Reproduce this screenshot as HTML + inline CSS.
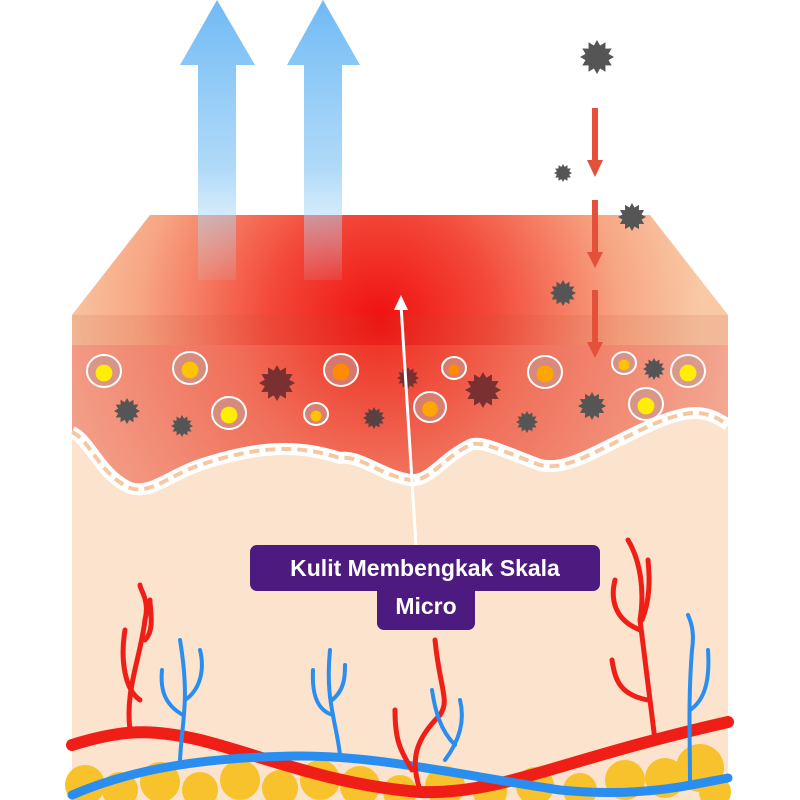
<!DOCTYPE html>
<html><head><meta charset="utf-8"><style>
html,body{margin:0;padding:0;background:#fff;width:800px;height:800px;overflow:hidden}
.lab{position:absolute;background:#4d1a7f;color:#fff;font-family:"Liberation Sans",sans-serif;font-weight:bold;font-size:23px;text-align:center;border-radius:7px}
</style></head><body>
<svg id="s" width="800" height="800" viewBox="0 0 800 800" style="position:absolute;left:0;top:0">
<defs>
<radialGradient id="hot" cx="380" cy="320" r="320" gradientUnits="userSpaceOnUse">
<stop offset="0" stop-color="#f01010"/><stop offset="0.35" stop-color="#f3493a"/><stop offset="0.75" stop-color="#f7a582"/><stop offset="1" stop-color="#f9c8a5"/></radialGradient>
<radialGradient id="epi" cx="380" cy="320" r="380" gradientUnits="userSpaceOnUse">
<stop offset="0" stop-color="#ee2a1e"/><stop offset="0.4" stop-color="#f0705a"/><stop offset="1" stop-color="#f3ae98"/></radialGradient>
<linearGradient id="blu" x1="0" y1="0" x2="0" y2="1"><stop offset="0" stop-color="#6fbaf5"/><stop offset="0.6" stop-color="#9cd0f7" stop-opacity="0.8"/><stop offset="1" stop-color="#bfe0f7" stop-opacity="0.1"/></linearGradient>
</defs>
<rect x="72" y="340" width="656" height="460" fill="#fbe3cd"/>
<path d="M72,340 H728 V425 C700,405 680,410 620,440 C580,460 560,470 540,465 C500,450 480,440 470,445 C440,460 430,482 410,480 C380,475 360,455 340,458 C300,445 260,445 200,465 C170,475 150,495 130,488 C100,475 90,440 72,432 Z" fill="url(#epi)"/>
<path d="M72,432 C90,440 100,475 130,488 C150,495 170,475 200,465 C260,445 300,445 340,458 C360,455 380,475 410,480 C430,482 440,460 470,445 C480,440 500,450 540,465 C560,470 580,460 620,440 C680,410 700,405 728,425" fill="none" stroke="#fff" stroke-width="12"/>
<path d="M72,432 C90,440 100,475 130,488 C150,495 170,475 200,465 C260,445 300,445 340,458 C360,455 380,475 410,480 C430,482 440,460 470,445 C480,440 500,450 540,465 C560,470 580,460 620,440 C680,410 700,405 728,425" fill="none" stroke="#f6c7a3" stroke-width="4" stroke-dasharray="10 6"/>
<polygon points="150,215 650,215 728,315 72,315" fill="url(#hot)"/>
<rect x="72" y="315" width="656" height="30" fill="url(#hot)"/>
<rect x="72" y="315" width="656" height="30" fill="#c0503a" opacity="0.12"/>
<g fill="url(#blu)">
<polygon points="217,0 255,65 236,65 236,280 198,280 198,65 180,65"/>
<polygon points="323,0 360,65 342,65 342,280 304,280 304,65 287,65"/>
</g>
<g fill="#e4503a">
<rect x="592" y="108" width="6" height="55"/><polygon points="587,160 603,160 595,177"/>
<rect x="592" y="200" width="6" height="55"/><polygon points="587,252 603,252 595,268"/>
<rect x="592" y="290" width="6" height="55"/><polygon points="587,342 603,342 595,358"/>
</g>
<g id="cells"></g>
<g id="vir"></g>
<g fill="#f7c22c">
<circle cx="85" cy="785" r="20"/><circle cx="120" cy="790" r="18"/><circle cx="160" cy="782" r="20"/><circle cx="200" cy="790" r="18"/><circle cx="240" cy="780" r="20"/><circle cx="280" cy="788" r="18"/><circle cx="320" cy="780" r="20"/><circle cx="360" cy="786" r="20"/><circle cx="400" cy="792" r="17"/><circle cx="445" cy="786" r="20"/><circle cx="490" cy="792" r="17"/><circle cx="535" cy="786" r="19"/><circle cx="580" cy="790" r="17"/><circle cx="625" cy="780" r="20"/><circle cx="665" cy="778" r="20"/><circle cx="700" cy="768" r="24"/><circle cx="715" cy="792" r="16"/>
</g>
<g fill="none" stroke-linecap="round">
<path d="M72,745 C120,730 150,728 200,740 C260,755 330,785 420,792 C500,795 560,760 728,722" stroke="#ef1f17" stroke-width="12"/>
<path d="M72,795 C130,770 200,757 300,756 C380,756 460,775 560,790 C640,798 690,785 728,778" stroke="#2a8ef0" stroke-width="9"/>
<g stroke="#ef1f17" stroke-width="5">
<path d="M130,730 C125,690 140,660 145,620 C150,600 140,590 140,585"/><path d="M140,700 C125,690 120,660 125,630"/><path d="M145,640 C155,630 150,610 150,600"/>
<path d="M420,790 C410,760 415,740 440,715 C450,700 440,690 435,640"/><path d="M412,770 C400,750 395,740 395,710"/>
<path d="M655,740 C650,700 645,660 640,620 C645,590 640,560 628,540"/><path d="M648,700 C620,695 615,680 612,660"/><path d="M640,630 C615,620 610,600 615,580"/><path d="M642,620 C650,600 650,580 648,560"/>
</g>
<g stroke="#2a8ef0" stroke-width="4">
<path d="M180,760 C182,720 190,700 180,640"/><path d="M183,715 C165,705 160,690 162,670"/><path d="M185,700 C200,690 205,670 200,650"/>
<path d="M340,755 C336,720 325,700 330,650"/><path d="M333,715 C315,710 312,690 313,670"/><path d="M332,700 C345,690 345,675 345,665"/>
<path d="M445,760 C460,740 465,720 460,700"/><path d="M455,745 C440,730 435,710 432,690"/>
<path d="M690,780 C690,740 688,700 692,650 C695,630 690,620 688,615"/><path d="M690,710 C705,700 710,680 708,650"/>
</g>
</g>
<line x1="416" y1="545" x2="401" y2="305" stroke="#fff" stroke-width="3"/>
<polygon points="401,295 394,310 408,310" fill="#fff"/>
</svg>
<div class="lab" style="left:250px;top:545px;width:350px;height:46px;line-height:46px">Kulit Membengkak Skala</div>
<div class="lab" style="left:377px;top:586px;width:98px;height:44px;line-height:40px;border-radius:0 0 7px 7px">Micro</div>
<script>
var NS="http://www.w3.org/2000/svg";
function star(g,cx,cy,r,col){var p=[],n=12;for(var i=0;i<2*n;i++){var a=i*Math.PI/n,rr=i%2?r*0.7:r;p.push((cx+rr*Math.cos(a)).toFixed(1)+","+(cy+rr*Math.sin(a)).toFixed(1));}
var e=document.createElementNS(NS,"polygon");e.setAttribute("points",p.join(" "));e.setAttribute("fill",col);g.appendChild(e);}
var v=document.getElementById("vir");
[[597,57,17,"#555"],[563,173,9,"#555"],[632,217,14,"#555"],[563,293,13,"#555"],[277,383,18,"#7a3030"],[408,378,11,"#7a3030"],[483,390,18,"#7a3030"],[127,411,13,"#555"],[182,426,11,"#555"],[374,418,11,"#5a4040"],[527,422,11,"#555"],[592,406,14,"#555"],[654,369,11,"#555"]].forEach(function(a){star(v,a[0],a[1],a[2],a[3]);});
var c=document.getElementById("cells");
[[104,371,14,"#ffee00"],[190,368,14,"#ffc400"],[229,413,14,"#ffee00"],[316,414,9,"#ffc400"],[341,370,14,"#ff8c00"],[454,368,9,"#ff8c00"],[430,407,13,"#ffa500"],[545,372,14,"#ffa500"],[624,363,9,"#ffc400"],[646,404,14,"#ffee00"],[688,371,14,"#ffee00"]].forEach(function(a){
var o=document.createElementNS(NS,"ellipse");o.setAttribute("cx",a[0]);o.setAttribute("cy",a[1]);o.setAttribute("rx",a[2]+3);o.setAttribute("ry",a[2]+2);o.setAttribute("fill","#c89a90");o.setAttribute("fill-opacity","0.6");o.setAttribute("stroke","#fff");o.setAttribute("stroke-width","2");c.appendChild(o);
var n=document.createElementNS(NS,"circle");n.setAttribute("cx",a[0]);n.setAttribute("cy",a[1]+2);n.setAttribute("r",a[2]*0.6);n.setAttribute("fill",a[3]);c.appendChild(n);});
</script>
</body></html>
